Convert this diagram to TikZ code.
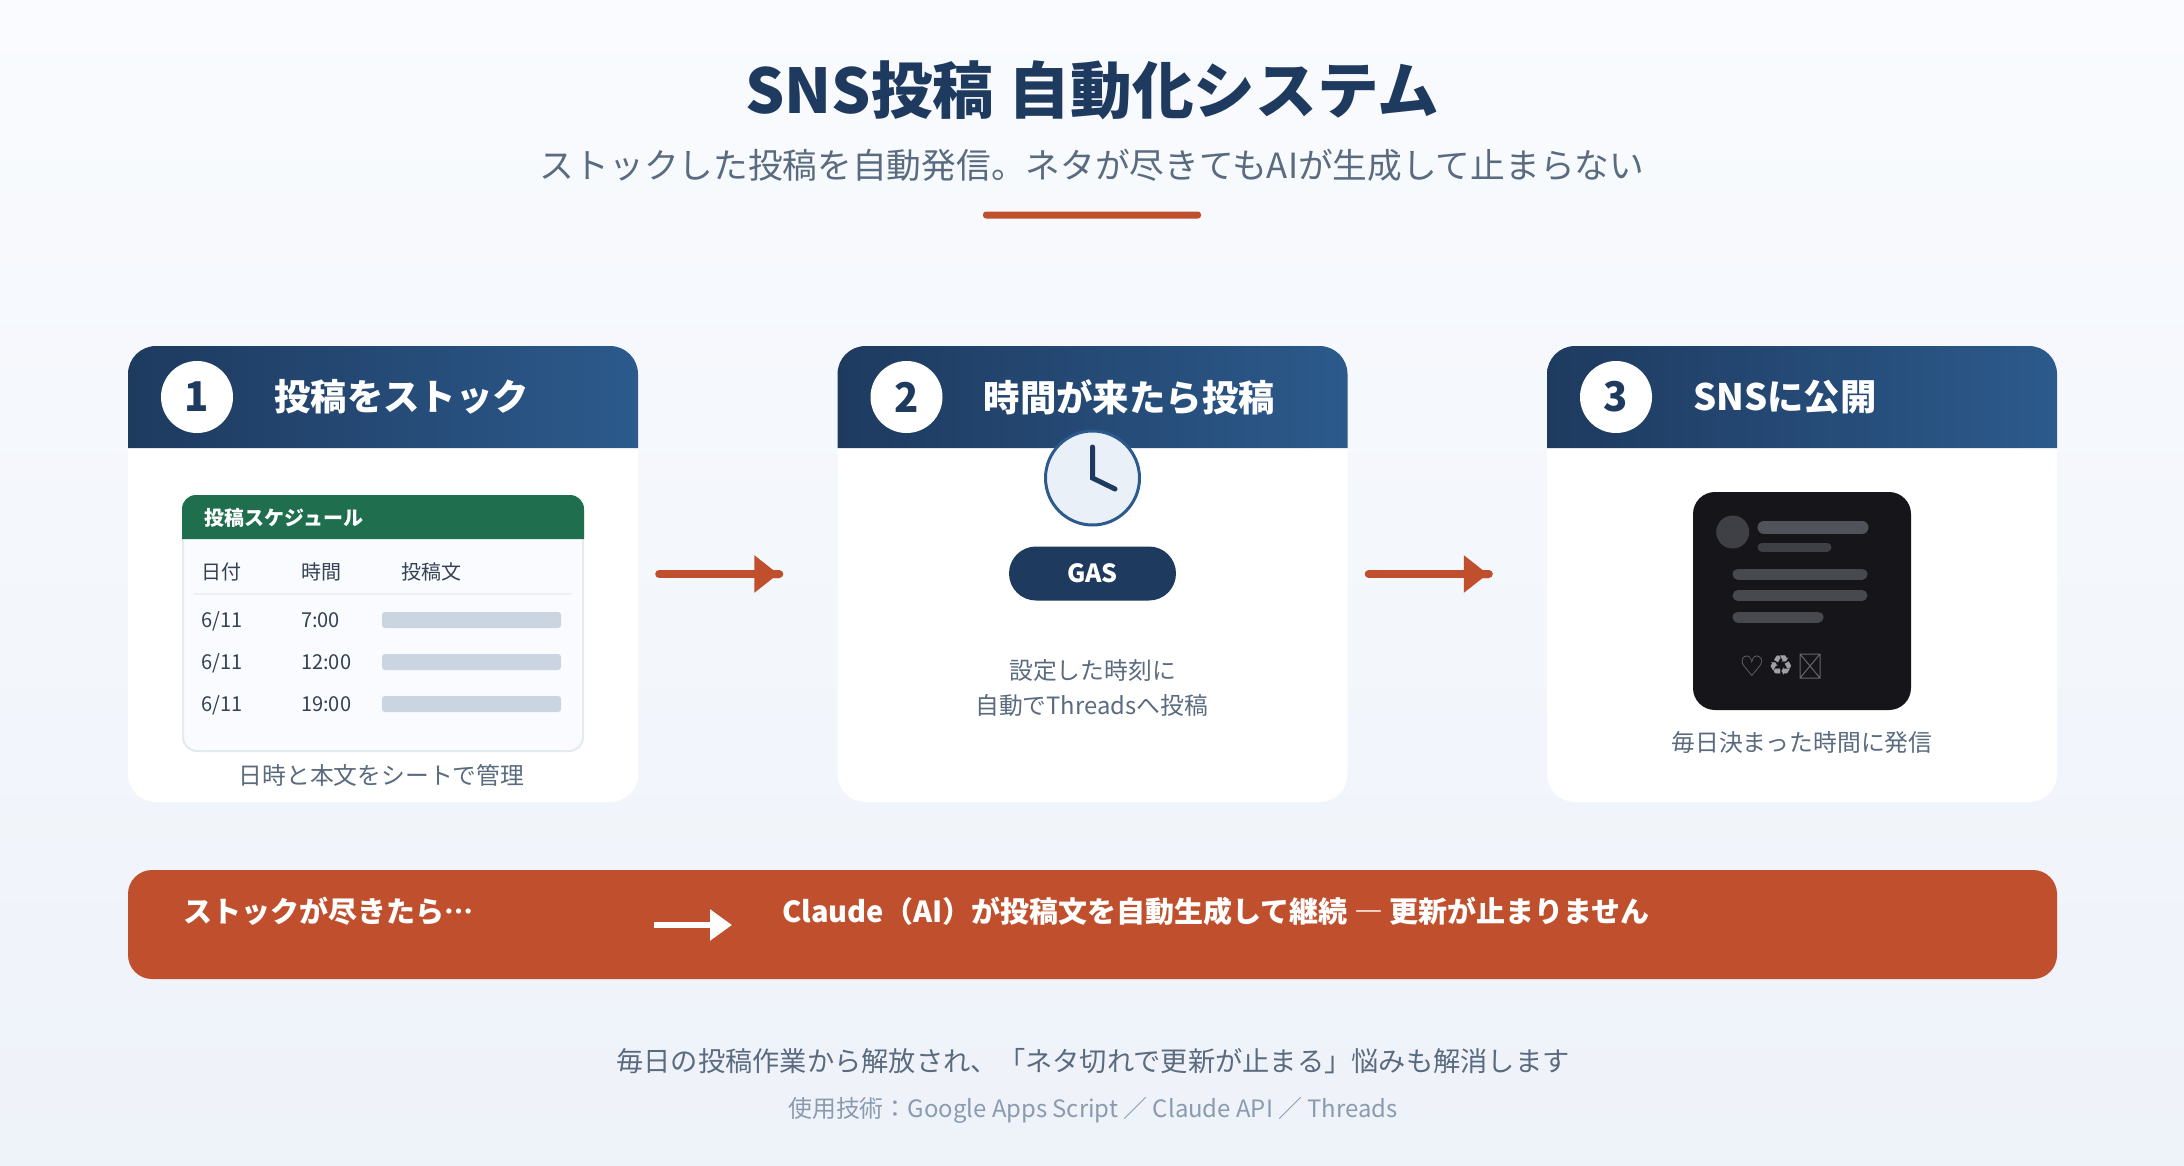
\documentclass[tikz,border=0pt]{standalone}
\usepackage{fontspec}
\setmainfont[Script=CJK,Language=Japanese]{Noto Sans CJK JP}
\newfontfamily\symfont{DejaVu Sans}
\usetikzlibrary{arrows.meta}

\definecolor{navy}{HTML}{1E3A5F}
\definecolor{navyl}{HTML}{2C5A8C}
\definecolor{rust}{HTML}{C0502D}
\definecolor{slate}{HTML}{5A6B80}
\definecolor{mist}{HTML}{8A9BB0}
\definecolor{sheetc}{HTML}{1F6E4E}
\definecolor{ink}{HTML}{334155}
\definecolor{barc}{HTML}{CBD5E1}
\definecolor{bgtop}{HTML}{F9FBFE}
\definecolor{bgbot}{HTML}{EEF2F9}
\definecolor{dial}{HTML}{EAF0F8}
\definecolor{phone}{HTML}{15151A}
\definecolor{lineb}{HTML}{52525B}
\definecolor{linec}{HTML}{48484F}
\definecolor{lined}{HTML}{3F3F46}
\definecolor{icona}{HTML}{7A7A80}
\definecolor{iconb}{HTML}{A0A0A5}
\definecolor{iconc}{HTML}{66666B}

\newcommand{\fs}[1]{\fontsize{#1}{#1}\selectfont}

\begin{document}
\begin{tikzpicture}[x=1pt,y=-1pt,node distance=709.5pt,
  card/.style={draw=none,fill=white,rounded corners=28pt,minimum width=510pt,minimum height=456pt,inner sep=0pt},
  num node/.style={circle,fill=white,minimum size=72pt,inner sep=0pt,text=navy,font=\bfseries\fs{40}},
  head text/.style={anchor=west,inner sep=0pt,text=white,font=\bfseries\fs{36.4}},
  cap text/.style={inner sep=0pt,text=slate,font=\fs{23.8},align=center},
  cell/.style={anchor=west,inner sep=0pt,text=ink,font=\fs{20}},
  stub/.style={fill=barc,rounded corners=3pt}]

  \tikzstyle{flow} = [draw,line width=8pt,rust,line cap=round,shorten <=21pt,shorten >=54pt,
    -{Triangle[length=24pt,width=36pt,sep=-4pt]Butt Cap[length=5pt,sep=0pt]Round Cap[length=4pt]}]
  \tikzstyle{headfill} = [left color=navy,right color=navyl]
  \tikzstyle{bar} = [line cap=round,line width=11pt]

  \useasboundingbox (0,0) rectangle (2184,1165);
  \shade[top color=bgtop,bottom color=bgbot] (0,0) rectangle (2184,1165);

  % title
  \node[inner sep=0pt,text=navy,font=\bfseries\fs{61.7}] (title) at (1092,90) {SNS投稿 自動化システム};
  \node[inner sep=0pt,text=slate,font=\fs{34.7}] (sub) at (1092,165) {ストックした投稿を自動発信。ネタが尽きてもAIが生成して止まらない};
  \fill[rust,rounded corners=3pt] (983,211.5) rectangle (1201,218.5);

  % cards
  \node[card] (1) at (383,574) {};
  \node[card] (2) [right of=1] {};
  \node[card] (3) [right of=2] {};

  \shade[headfill] (128,448) [rounded corners=28pt] -- (128,346) -- (638,346) [sharp corners] -- (638,448) -- cycle;
  \shade[headfill] (837.5,448) [rounded corners=28pt] -- (837.5,346) -- (1347.5,346) [sharp corners] -- (1347.5,448) -- cycle;
  \shade[headfill] (1547,448) [rounded corners=28pt] -- (1547,346) -- (2057,346) [sharp corners] -- (2057,448) -- cycle;

  \node[num node] (n1) at (197,397) {1};
  \node[num node] (n2) at (906.5,397) {2};
  \node[num node] (n3) at (1616,397) {3};
  \node[head text] (h1) at (274,397) {投稿をストック};
  \node[head text] (h2) at (983.5,397) {時間が来たら投稿};
  \node[head text] (h3) at (1693,397) {SNSに公開};

  % sheet in card 1
  \node[draw=barc!50!white,line width=2pt,fill=bgtop,rounded corners=14pt,minimum width=400pt,minimum height=255pt,inner sep=0pt] (sheet) at (383,623.5) {};
  \fill[sheetc] (182,539) [rounded corners=14pt] -- (182,495) -- (584,495) [sharp corners] -- (584,539) -- cycle;
  \node[cell,text=white,font=\bfseries\fs{20}] (st) at (204.5,518) {投稿スケジュール};
  \node[cell] (c1) at (201,572) {日付};
  \node[cell] (c2) at (301,572) {時間};
  \node[cell] (c3) at (401,572) {投稿文};
  \draw[line width=2pt,barc!35!white] (194,594) -- (572,594);
  \node[cell] (d1) at (201,621.5) {6/11};
  \node[cell] (t1) at (301,620.5) {7:00};
  \fill[stub] (382,612) rectangle (561,628);
  \node[cell] (d2) at (201,663.5) {6/11};
  \node[cell] (t2) at (301,662.5) {12:00};
  \fill[stub] (382,654) rectangle (561,670);
  \node[cell] (d3) at (201,705.5) {6/11};
  \node[cell] (t3) at (301,704.5) {19:00};
  \fill[stub] (382,696) rectangle (561,712);
  \node[cap text] (cap1) at (381.5,775) {日時と本文をシートで管理};

  % clock and pill in card 2
  \node[circle,draw=navyl,line width=3pt,fill=dial,minimum size=94pt,inner sep=0pt] (clock) at (1092.5,478) {};
  \draw[navy,line width=5pt,line cap=round] (1092.5,447) -- (clock.center) -- (1115,489);
  \node[fill=navy,rounded corners=27pt,minimum width=167pt,minimum height=54pt,inner sep=0pt,text=white,font=\bfseries\fs{25}] (gas) at (1092.5,573.5) {GAS};
  \node[cap text] (cap2a) at (1092.5,670) {設定した時刻に};
  \node[cap text] (cap2b) at (1091.5,705.5) {自動でThreadsへ投稿};

  % post in card 3
  \node[fill=phone,rounded corners=22pt,minimum width=218pt,minimum height=218pt,inner sep=0pt] (post) at (1802,601) {};
  \node[circle,fill=lined,minimum size=33pt,inner sep=0pt] (face) at (1732.7,532) {};
  \draw[bar,line width=13pt,lineb] (1764,527.5) -- (1862,527.5);
  \draw[bar,line width=9pt,lined] (1762,547) -- (1827,547);
  \draw[bar,linec] (1738,574) -- (1862,574);
  \draw[bar,linec] (1738,595.5) -- (1862,595.5);
  \draw[bar,linec] (1738,617) -- (1818,617);
  \node[inner sep=0pt,text=icona,font=\symfont\fs{28}] (like) at (1752,666) {♡};
  \node[inner sep=0pt,text=iconb,font=\symfont\fs{28}] (share) at (1781,666) {♻};
  \draw[iconc,line width=1pt] (1800,654) rectangle (1820,678) (1800,654) -- (1820,678) (1820,654) -- (1800,678);
  \node[cap text] (cap3) at (1802,742.3) {毎日決まった時間に発信};

  \path[flow]
    (1) edge (2)
    (2) edge (3);

  % banner
  \node[fill=rust,rounded corners=24pt,minimum width=1929pt,minimum height=109pt,inner sep=0pt] (banner) at (1092.5,924.5) {};
  \node[anchor=west,inner sep=0pt,text=white,font=\bfseries\fs{29}] (out) at (183,911) {ストックが尽きたら…};
  \node[anchor=west,inner sep=0pt,text=white,font=\bfseries\fs{29}] (gen) at (782,911) {Claude（AI）が投稿文を自動生成して継続 — 更新が止まりません};
  \coordinate (a) at (654,925);
  \coordinate (b) at (732,925);
  \draw[white,line width=6pt,-{Triangle[length=22pt,width=30pt]}] (a) -- (b);

  % footer
  \node[inner sep=0pt,text=slate,font=\fs{27.25}] (foot) at (1093,1061) {毎日の投稿作業から解放され、「ネタ切れで更新が止まる」悩みも解消します};
  \node[inner sep=0pt,text=mist,font=\fs{23.9}] (tech) at (1093,1110) {使用技術：Google Apps Script ／ Claude API ／ Threads};
\end{tikzpicture}
\end{document}
